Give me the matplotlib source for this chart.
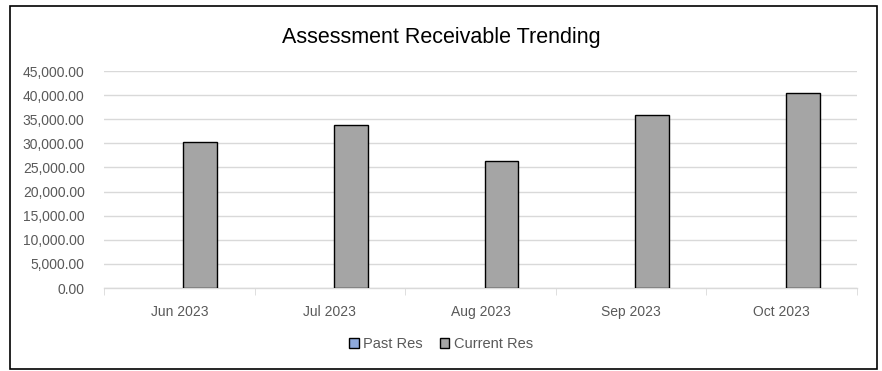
import numpy as np
import matplotlib
matplotlib.use("Agg")
import matplotlib.pyplot as plt
from matplotlib.patches import Rectangle, Patch
from matplotlib.ticker import FuncFormatter

plt.rcParams['font.family'] = ['Liberation Sans', 'DejaVu Sans']

# data
months = ['Jun 2023', 'Jul 2023', 'Aug 2023', 'Sep 2023', 'Oct 2023']
past_res = [0, 0, 0, 0, 0]
current_res = [30200, 33900, 26300, 35900, 40400]

past_color = '#8faadc'
current_color = '#a5a5a5'

fig = plt.figure(figsize=(8.82, 3.71), dpi=100)
ax = fig.add_axes([0.118, 0.2237, 0.8535, 0.5849])

# outer chart border
fig.patches.append(Rectangle((10 / 882, 2 / 371), 867 / 882, 363 / 371,
                             transform=fig.transFigure, fill=False,
                             edgecolor='black', linewidth=1.2))

x = np.arange(len(months))
w = 0.225
off = 0.14
# past res values are all zero -> no visible bar
ax.bar(x - off, past_res, w, color=past_color, linewidth=0, zorder=3)
ax.bar(x + off, current_res, w, color=current_color, edgecolor='black',
       linewidth=1, zorder=3)

ax.set_xlim(-0.5, len(months) - 0.5)
ax.set_ylim(0, 45000)
ax.set_yticks(np.arange(0, 45001, 5000))
ax.yaxis.set_major_formatter(FuncFormatter(lambda v, p: f'{v:,.2f}'))
ax.grid(axis='y', color='#d9d9d9', linewidth=1, zorder=0)

ax.set_xticks(x)
ax.set_xticklabels(months)
ax.set_xticks(np.arange(-0.5, len(months)), minor=True)
ax.tick_params(axis='x', which='major', length=0, pad=12, labelsize=10,
               labelcolor='#595959')
ax.tick_params(axis='x', which='minor', length=5, color='#d9d9d9')
ax.tick_params(axis='y', length=0, pad=14, labelsize=10, labelcolor='#595959')

for s in ['top', 'right', 'left']:
    ax.spines[s].set_visible(False)
ax.spines['bottom'].set_color('#d9d9d9')
ax.spines['bottom'].set_linewidth(1)

fig.text(0.5, 0.9, 'Assessment Receivable Trending', ha='center', va='center',
         fontsize=15.5, color='black')

handles = [Patch(facecolor=past_color, edgecolor='black', linewidth=1, label='Past Res'),
           Patch(facecolor=current_color, edgecolor='black', linewidth=1, label='Current Res')]
fig.legend(handles=handles, loc='center', bbox_to_anchor=(0.5, 0.073), ncol=2,
           frameon=False, fontsize=10.5, labelcolor='#595959', handlelength=0.65,
           handleheight=0.65, handletextpad=0.3, columnspacing=1.2)

fig.savefig('out.png', dpi=100)
